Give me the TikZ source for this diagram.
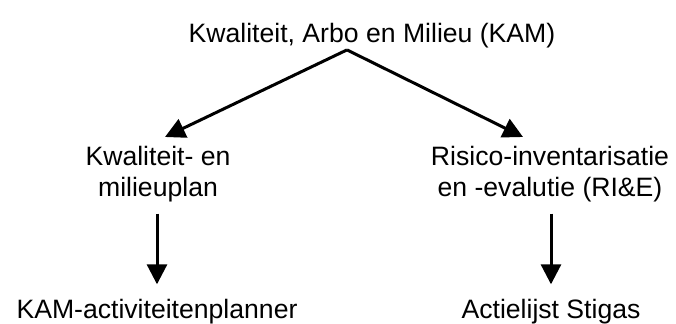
\documentclass[tikz,border=0pt]{standalone}
\usepackage{fontspec}
\setmainfont{Liberation Sans}
\usetikzlibrary{arrows.meta,calc}
\begin{document}
\begin{tikzpicture}[x=0.5pt,y=-0.5pt,
  lbl/.style={inner sep=0pt,align=center,font=\fontsize{13.3}{15.5}\selectfont},
  arr/.style={line width=1.5pt,-{Triangle[length=10pt,width=10pt]}}]
\useasboundingbox (0,0) rectangle (676,324);
\node[lbl,anchor=base] (top) at (372,43) {Kwaliteit, Arbo en Milieu (KAM)};
\node[lbl,anchor=north] (mid1) at (158,146) {Kwaliteit- en\\milieuplan};
\node[lbl,anchor=north] (mid2) at (550,146) {Risico-inventarisatie\\en -evalutie (RI\&E)};
\node[lbl,anchor=base] (bot1) at (157,319) {KAM-activiteitenplanner};
\node[lbl,anchor=base] (bot2) at (551,319) {Actielijst Stigas};
\coordinate (apex) at ($(top.south)+(-25,1)$);
\draw[arr] (apex) -- ($(mid1.north)+(7,-9)$);
\draw[arr] (apex) -- ($(mid2.north)+(-27,-9)$);
\draw[arr] ($(mid1.south)+(-1,11)$) -- ($(bot1.north)+(0,-15)$);
\draw[arr] ($(mid2.south)+(1,11)$) -- ($(bot2.north)+(0,-15)$);
\end{tikzpicture}
\end{document}
